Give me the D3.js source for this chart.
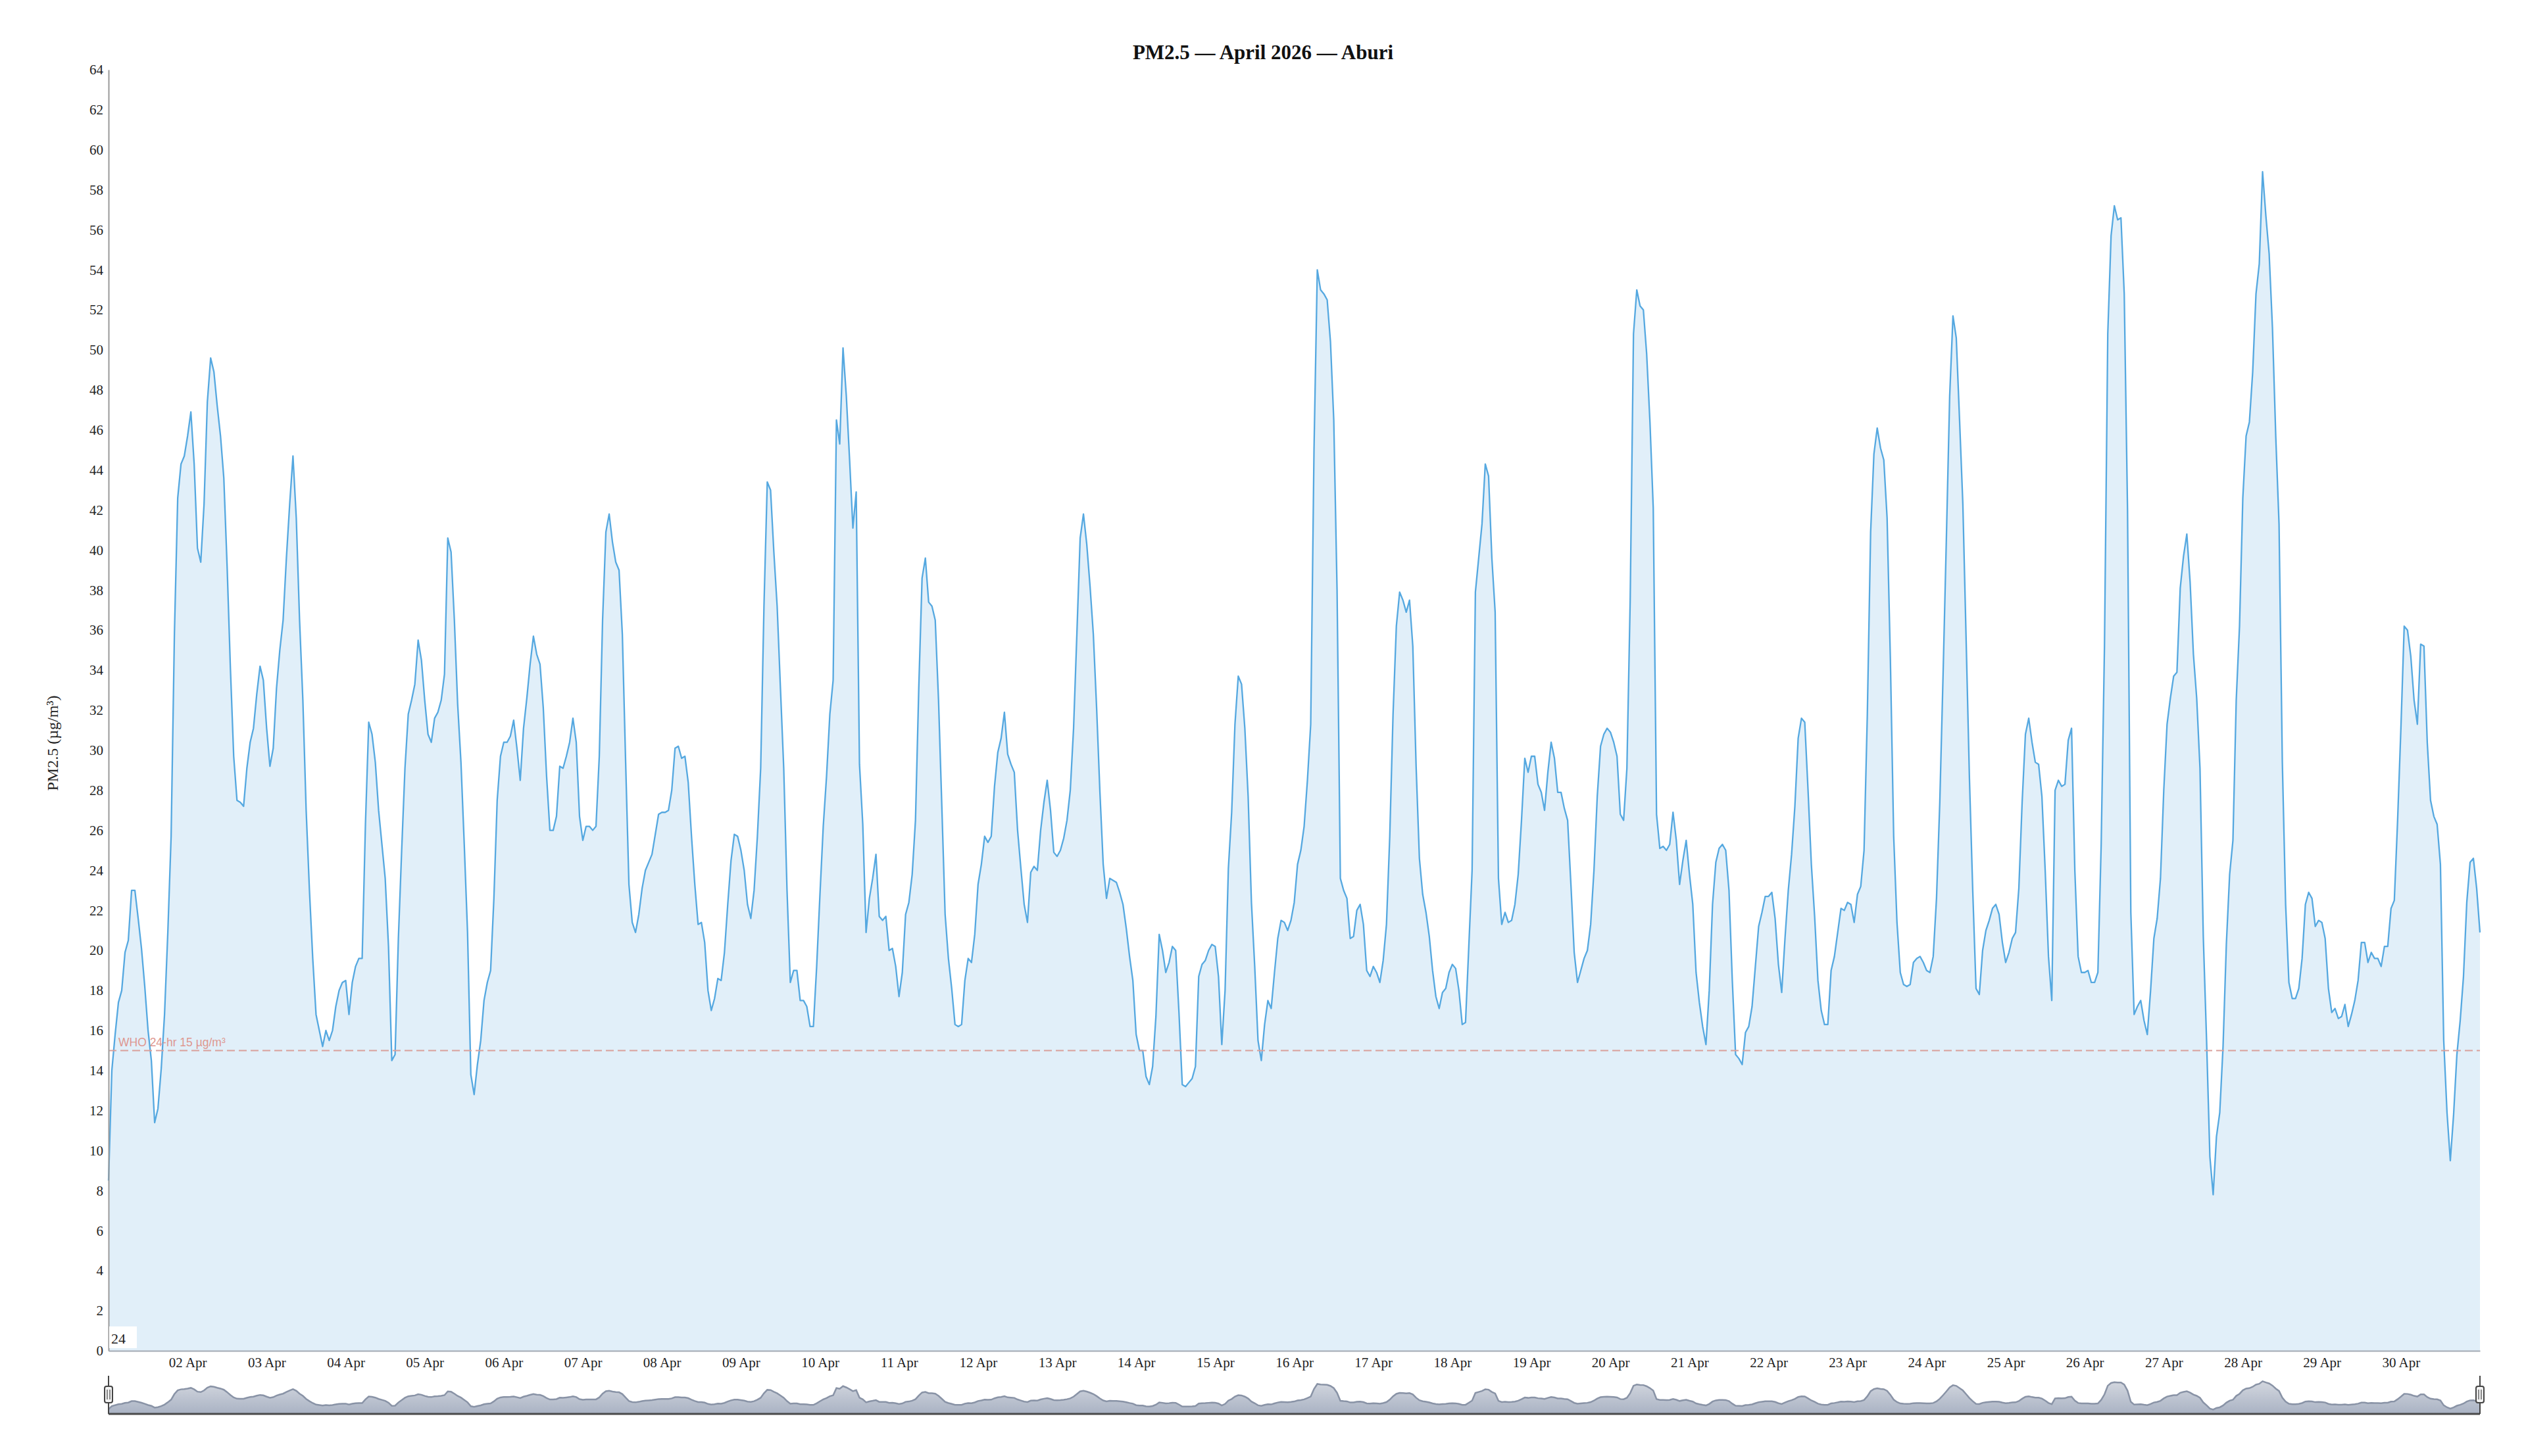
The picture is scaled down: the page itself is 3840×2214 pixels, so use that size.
<!DOCTYPE html>
<html>
<head>
<meta charset="utf-8">
<script src="https://cdn.jsdelivr.net/npm/d3@7"></script>
<style>
  body { margin: 0; background: #fff; }
</style>
</head>
<body>
<div id="chart"></div>
<script>
// hourly PM2.5 (µg/m³), starting 01 Apr 00:00 UTC
var apr01to07 = [
  8.5, 14.0, 15.8, 17.4, 18.0, 19.9, 20.5, 23.0, 23.0, 21.6, 20.1, 18.2, 16.0, 14.5, 11.4, 12.1, 14.1, 16.8, 20.9, 25.7, 35.8, 42.6, 44.3, 44.7,
  45.7, 46.9, 44.3, 40.1, 39.4, 42.3, 47.4, 49.6, 48.9, 47.2, 45.7, 43.6, 39.2, 34.1, 29.7, 27.5, 27.4, 27.2, 29.1, 30.4, 31.1, 32.8, 34.2, 33.5,
  31.1, 29.2, 30.1, 33.1, 35.0, 36.5, 39.6, 42.3, 44.7, 41.6, 36.5, 32.5, 27.0, 23.0, 19.6, 16.8, 16.0, 15.2, 16.0, 15.5, 16.0, 17.2, 18.0, 18.4,
  18.5, 16.8, 18.4, 19.2, 19.6, 19.6, 26.3, 31.4, 30.8, 29.4, 27.0, 25.3, 23.6, 20.2, 14.5, 14.8, 20.6, 25.0, 29.1, 31.8, 32.5, 33.3, 35.5, 34.5,
  32.5, 30.8, 30.4, 31.6, 31.9, 32.5, 33.8, 40.6, 39.9, 36.5, 32.3, 29.4, 25.3, 20.9, 13.8, 12.8, 14.3, 15.5, 17.5, 18.4, 19.0, 22.6, 27.5, 29.7,
  30.4, 30.4, 30.7, 31.5, 30.1, 28.5, 31.1, 32.6, 34.3, 35.7, 34.8, 34.3, 32.1, 28.7, 26.0, 26.0, 26.7, 29.2, 29.1, 29.7, 30.4, 31.6, 30.4, 26.7,
  25.5, 26.2, 26.2, 26.0, 26.2, 29.7, 36.5, 40.9, 41.8, 40.4, 39.4, 39.0, 35.8, 29.4, 23.3, 21.4, 20.9, 21.8, 23.1, 24.0, 24.4, 24.8, 25.8, 26.8
];
var apr08to14 = [
  26.9, 26.9, 27.0, 28.0, 30.1, 30.2, 29.6, 29.7, 28.4, 25.7, 23.3, 21.3, 21.4, 20.4, 18.0, 17.0, 17.6, 18.6, 18.5, 19.9, 22.3, 24.5, 25.8, 25.7,
  25.0, 24.0, 22.3, 21.6, 23.0, 25.7, 29.1, 37.2, 43.4, 43.0, 39.9, 37.2, 33.1, 29.1, 23.0, 18.4, 19.0, 19.0, 17.5, 17.5, 17.2, 16.2, 16.2, 19.2,
  22.8, 26.2, 28.7, 31.8, 33.5, 46.5, 45.3, 50.1, 47.7, 44.5, 41.1, 42.9, 29.3, 26.3, 20.9, 22.6, 23.6, 24.8, 21.7, 21.5, 21.7, 20.0, 20.1, 19.2,
  17.7, 18.9, 21.8, 22.4, 23.8, 26.5, 33.1, 38.6, 39.6, 37.4, 37.2, 36.5, 32.5, 27.2, 21.8, 19.6, 18.1, 16.3, 16.2, 16.3, 18.5, 19.6, 19.4, 20.8,
  23.3, 24.3, 25.7, 25.4, 25.7, 28.2, 29.9, 30.6, 31.9, 29.8, 29.3, 28.9, 26.0, 24.1, 22.3, 21.4, 23.9, 24.2, 24.0, 26.0, 27.4, 28.5, 27.0, 24.9,
  24.7, 25.0, 25.6, 26.5, 28.0, 31.1, 35.8, 40.6, 41.8, 40.3, 38.2, 35.8, 32.1, 27.9, 24.3, 22.6, 23.6, 23.5, 23.4, 22.9, 22.3, 21.1, 19.7, 18.5,
  15.8, 15.0, 15.0, 13.7, 13.3, 14.2, 16.7, 20.8, 20.0, 18.9, 19.4, 20.2, 20.0, 16.9, 13.3, 13.2, 13.4, 13.6, 14.2, 18.7, 19.3, 19.5, 20.0, 20.3
];
var apr15to21 = [
  20.2, 18.7, 15.3, 18.0, 24.1, 26.9, 31.3, 33.7, 33.3, 31.1, 27.7, 22.4, 19.2, 15.5, 14.5, 16.3, 17.5, 17.1, 18.9, 20.6, 21.5, 21.4, 21.0, 21.5,
  22.4, 24.3, 25.0, 26.2, 28.5, 31.3, 45.0, 54.0, 53.0, 52.8, 52.5, 50.4, 46.5, 38.0, 23.6, 23.0, 22.6, 20.6, 20.7, 22.0, 22.3, 21.3, 19.0, 18.7,
  19.2, 18.9, 18.4, 19.5, 21.3, 25.7, 31.8, 36.2, 37.9, 37.5, 36.9, 37.5, 35.2, 29.2, 24.6, 22.8, 21.9, 20.7, 19.0, 17.7, 17.1, 17.9, 18.1, 18.9,
  19.3, 19.1, 18.0, 16.3, 16.4, 20.2, 24.0, 37.9, 39.6, 41.3, 44.3, 43.7, 39.6, 36.9, 23.6, 21.3, 21.9, 21.4, 21.5, 22.3, 23.8, 26.5, 29.6, 28.9,
  29.7, 29.7, 28.3, 27.9, 27.0, 28.9, 30.4, 29.6, 27.9, 27.9, 27.1, 26.5, 23.3, 19.9, 18.4, 19.0, 19.6, 20.0, 21.3, 24.0, 27.7, 30.2, 30.8, 31.1,
  30.9, 30.4, 29.7, 26.8, 26.5, 29.1, 37.5, 50.8, 53.0, 52.2, 52.0, 49.8, 46.4, 42.1, 26.8, 25.1, 25.2, 25.0, 25.3, 26.9, 25.5, 23.3, 24.5, 25.5,
  23.8, 22.3, 18.9, 17.4, 16.2, 15.3, 18.0, 22.3, 24.4, 25.1, 25.3, 25.0, 23.0, 18.5, 14.8, 14.6, 14.3, 15.9, 16.2, 17.2, 19.2, 21.2, 21.9, 22.7
];
var apr22to28 = [
  22.7, 22.9, 21.6, 19.3, 17.9, 20.6, 23.0, 24.8, 27.2, 30.6, 31.6, 31.4, 28.0, 24.3, 21.7, 18.5, 17.0, 16.3, 16.3, 19.0, 19.7, 20.9, 22.1, 22.0,
  22.4, 22.3, 21.4, 22.8, 23.2, 25.0, 31.8, 40.9, 44.8, 46.1, 45.1, 44.5, 41.6, 34.5, 25.7, 21.4, 18.9, 18.3, 18.2, 18.3, 19.4, 19.6, 19.7, 19.4,
  19.0, 18.9, 19.7, 22.6, 27.4, 33.8, 40.6, 47.7, 51.7, 50.6, 46.5, 42.3, 35.5, 28.6, 23.0, 18.1, 17.8, 20.0, 21.0, 21.5, 22.1, 22.3, 21.8, 20.4,
  19.4, 19.9, 20.6, 20.9, 23.1, 27.4, 30.8, 31.6, 30.4, 29.4, 29.3, 27.7, 24.0, 19.7, 17.5, 28.0, 28.5, 28.2, 28.3, 30.5, 31.1, 24.0, 19.7, 18.9,
  18.9, 19.0, 18.4, 18.4, 18.9, 25.3, 35.2, 50.8, 55.7, 57.2, 56.5, 56.6, 52.8, 42.0, 21.9, 16.8, 17.2, 17.5, 16.5, 15.8, 18.0, 20.6, 21.6, 23.6,
  28.0, 31.3, 32.6, 33.7, 33.9, 38.1, 39.7, 40.8, 38.4, 34.8, 32.6, 29.1, 20.7, 15.5, 9.7, 7.8, 10.7, 11.9, 15.2, 20.3, 23.8, 25.5, 32.5, 36.2,
  42.6, 45.7, 46.4, 48.9, 52.8, 54.3, 58.9, 56.7, 54.8, 51.1, 45.7, 41.3, 29.4, 22.3, 18.4, 17.6, 17.6, 18.1, 19.6, 22.3, 22.9, 22.6, 21.2, 21.5
];
var apr29to30 = [
  21.4, 20.6, 18.1, 16.9, 17.1, 16.6, 16.7, 17.3, 16.2, 16.8, 17.5, 18.5, 20.4, 20.4, 19.4, 19.9, 19.6, 19.6, 19.2, 20.2, 20.2, 22.1, 22.5, 26.5,
  31.1, 36.2, 36.0, 34.7, 32.5, 31.3, 35.3, 35.2, 30.4, 27.5, 26.7, 26.3, 24.3, 15.5, 11.9, 9.5, 11.8, 14.8, 16.5, 18.7, 22.4, 24.4, 24.6, 23.1,
  20.9
];

var yTickValues = d3.range(0, 65, 2);
var whoLimit = 15;
var whoLabel = "WHO 24-hr 15 µg/m³";
var titleText = "PM2.5 — April 2026 — Aburi";
var yTitle = "PM2.5 (µg/m³)";

var start = Date.UTC(2026, 3, 1);
var end = Date.UTC(2026, 4, 1);
var values = [].concat(apr01to07, apr08to14, apr15to21, apr22to28, apr29to30);
var data = values.map(function (v, i) { return { t: new Date(start + i * 3600000), v: v }; });

var W = 3840, H = 2214;
var margin = { top: 106, right: 70, bottom: 160, left: 165 };
var plotBottom = H - margin.bottom;

var svg = d3.select("#chart")
  .append("svg")
    .attr("width", W)
    .attr("height", H)
    .style("font-family", "'Liberation Serif', 'Times New Roman', serif");

var x = d3.scaleUtc()
  .domain([new Date(start), new Date(end)])
  .range([margin.left, W - margin.right]);

var y = d3.scaleLinear()
  .domain([0, 64])
  .range([plotBottom, margin.top]);

// area + line
svg.append("path")
  .datum(data)
  .attr("fill", "#e1eff9")
  .attr("d", d3.area()
    .x(function (d) { return x(d.t); })
    .y0(y(0))
    .y1(function (d) { return y(d.v); }));

svg.append("path")
  .datum(data)
  .attr("fill", "none")
  .attr("stroke", "#55a8e0")
  .attr("stroke-width", 2.3)
  .attr("stroke-linejoin", "round")
  .attr("d", d3.line()
    .x(function (d) { return x(d.t); })
    .y(function (d) { return y(d.v); }));

// WHO guideline
svg.append("line")
  .attr("x1", x.range()[0])
  .attr("x2", x.range()[1])
  .attr("y1", y(whoLimit))
  .attr("y2", y(whoLimit))
  .attr("stroke", "#d9a09b")
  .attr("stroke-width", 2)
  .attr("stroke-dasharray", "12,6");

svg.append("text")
  .attr("x", x.range()[0] + 15)
  .attr("y", y(whoLimit) - 6)
  .attr("fill", "#de9790")
  .attr("font-family", "'Liberation Sans', Arial, sans-serif")
  .attr("font-size", "17.5px")
  .text(whoLabel);

// axes
var yAxisG = svg.append("g")
  .attr("transform", "translate(" + margin.left + ",0)")
  .call(d3.axisLeft(y).tickValues(yTickValues).tickSize(0).tickPadding(8));
yAxisG.select(".domain").attr("stroke", "#9a9a9a").attr("stroke-width", 2);
yAxisG.selectAll("text")
  .attr("font-family", "'Liberation Serif', serif")
  .attr("font-size", "21px")
  .attr("fill", "#222");

var xAxisG = svg.append("g")
  .attr("transform", "translate(0," + plotBottom + ")")
  .call(d3.axisBottom(x)
    .tickValues(d3.utcDay.range(new Date(start + 86400000), new Date(end)))
    .tickFormat(d3.utcFormat("%d %b"))
    .tickSize(0)
    .tickPadding(10));
xAxisG.select(".domain").attr("stroke", "#a3aab4").attr("stroke-width", 2);
xAxisG.selectAll("text")
  .attr("font-family", "'Liberation Serif', serif")
  .attr("font-size", "21px")
  .attr("fill", "#222");

// title + axis title
svg.append("text")
  .attr("x", W / 2)
  .attr("y", 90)
  .attr("text-anchor", "middle")
  .attr("font-size", "31px")
  .attr("font-weight", "bold")
  .attr("fill", "#111")
  .text(titleText);

svg.append("text")
  .attr("transform", "translate(88,1130) rotate(-90)")
  .attr("text-anchor", "middle")
  .attr("font-size", "24px")
  .attr("fill", "#222")
  .text(yTitle);

// leftover hover label in the corner
svg.append("rect")
  .attr("x", margin.left + 1)
  .attr("y", 2017)
  .attr("width", 42)
  .attr("height", 33)
  .attr("fill", "#fff");
svg.append("text")
  .attr("x", margin.left + 4)
  .attr("y", 2043)
  .attr("font-size", "22px")
  .attr("fill", "#222")
  .text("24");

// navigator
var navTop = 2092, navBottom = 2150;
var yNav = d3.scaleLinear().domain([0, 64]).range([navBottom, 2096]);

var grad = svg.append("defs").append("linearGradient")
  .attr("id", "navFill").attr("x1", 0).attr("x2", 0).attr("y1", 0).attr("y2", 1);
grad.append("stop").attr("offset", "0%").attr("stop-color", "#d3d7df");
grad.append("stop").attr("offset", "100%").attr("stop-color", "#a9b2c3");

svg.append("path")
  .datum(data)
  .attr("fill", "url(#navFill)")
  .attr("d", d3.area()
    .x(function (d) { return x(d.t); })
    .y0(navBottom)
    .y1(function (d) { return yNav(d.v); }));

svg.append("path")
  .datum(data)
  .attr("fill", "none")
  .attr("stroke", "#8993a6")
  .attr("stroke-width", 2.5)
  .attr("d", d3.line()
    .x(function (d) { return x(d.t); })
    .y(function (d) { return yNav(d.v); }));

svg.append("line")
  .attr("x1", x.range()[0]).attr("x2", x.range()[1])
  .attr("y1", navBottom).attr("y2", navBottom)
  .attr("stroke", "#4a4a4a").attr("stroke-width", 3);

x.range().forEach(function (hx) {
  svg.append("line")
    .attr("x1", hx).attr("x2", hx)
    .attr("y1", navTop).attr("y2", navBottom)
    .attr("stroke", "#444").attr("stroke-width", 2);
  svg.append("rect")
    .attr("x", hx - 6).attr("y", 2108)
    .attr("width", 12).attr("height", 25)
    .attr("rx", 3)
    .attr("fill", "#f2f2f2")
    .attr("stroke", "#444")
    .attr("stroke-width", 2);
  [-2, 2].forEach(function (o) {
    svg.append("line")
      .attr("x1", hx + o).attr("x2", hx + o)
      .attr("y1", 2113).attr("y2", 2128)
      .attr("stroke", "#444").attr("stroke-width", 1.2);
  });
});
</script>
</body>
</html>
